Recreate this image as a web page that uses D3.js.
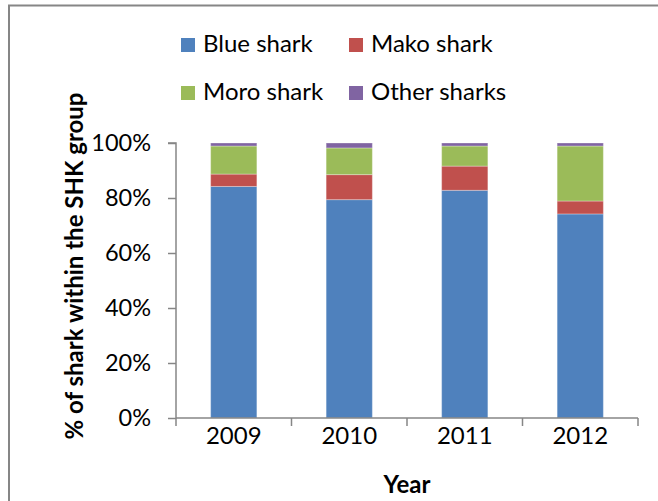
<!DOCTYPE html>
<html>
<head>
<meta charset="utf-8">
<script src="https://cdn.jsdelivr.net/npm/d3@7"></script>
<style>
  html, body { margin: 0; padding: 0; background: #fff; }
  svg { display: block; }
  text { font-family: Lato, "Open Sans", sans-serif; fill: #000; }
</style>
</head>
<body>
<svg id="chart" width="658" height="501"></svg>
<script>
const years = ["2009", "2010", "2011", "2012"];
const seriesNames = ["Blue shark", "Mako shark", "Moro shark", "Other sharks"];
const blueShark = [84.2, 79.4, 82.8, 74.2];
const makoShark = [4.5, 9.1, 8.8, 4.7];
const moroShark = [10.2, 9.7, 7.3, 20.0];
const otherSharks = [1.1, 1.8, 1.1, 1.1];
const yTicks = [0, 20, 40, 60, 80, 100];
const colors = ["#4F81BD", "#C0504D", "#9BBB59", "#8064A2"];

const seriesValues = [blueShark, makoShark, moroShark, otherSharks];
const rows = years.map((yr, i) => {
  const r = { year: yr };
  seriesNames.forEach((s, k) => { r[s] = seriesValues[k][i]; });
  return r;
});

const svg = d3.select("#chart");
const pLeft = 176, pRight = 638, pTop = 143, pBottom = 418;

// outer frame
svg.append("path")
  .attr("d", "M9,510 L9,5.5 L670,5.5")
  .attr("fill", "none")
  .attr("stroke", "#868686")
  .attr("stroke-width", 2);

const x = d3.scaleBand().domain(years).range([pLeft, pRight]).paddingInner(0.6).paddingOuter(0.3);
const y = d3.scaleLinear().domain([0, 100]).range([pBottom, pTop]);

const stack = d3.stack().keys(seriesNames)(rows);

svg.append("g").selectAll("g").data(stack).join("g")
  .attr("fill", (d, i) => colors[i])
  .selectAll("rect").data(d => d).join("rect")
  .attr("x", d => x(d.data.year))
  .attr("width", x.bandwidth())
  .attr("y", d => y(d[1]))
  .attr("height", d => y(d[0]) - y(d[1]))
  .attr("stroke", "rgba(255,255,255,0.3)")
  .attr("stroke-width", 1);

// y axis
const yAxis = svg.append("g").attr("transform", `translate(${pLeft},0)`)
  .call(d3.axisLeft(y).tickValues(yTicks).tickFormat(d => d + "%").tickSize(8).tickPadding(17));
yAxis.select(".domain").attr("stroke", "#868686").attr("stroke-width", 1.5).attr("d", `M-8,${pTop}H0V${pBottom}`);
yAxis.selectAll(".tick line").attr("stroke", "#868686").attr("stroke-width", 1.5);
yAxis.selectAll(".tick text").attr("font-size", 23.5).attr("font-family", "Lato").attr("fill", "#000");

// x axis with ticks at category boundaries
const xAxisG = svg.append("g").attr("transform", `translate(0,${pBottom})`);
xAxisG.append("line").attr("x1", pLeft).attr("x2", pRight).attr("y1", 0).attr("y2", 0)
  .attr("stroke", "#868686").attr("stroke-width", 1.5);
const boundaries = years.map((d, i) => pLeft + i * x.step());
boundaries.push(pRight);
xAxisG.selectAll("line.tk").data(boundaries).join("line").attr("class", "tk")
  .attr("x1", d => d).attr("x2", d => d).attr("y1", 0).attr("y2", 8)
  .attr("stroke", "#868686").attr("stroke-width", 1.5);
xAxisG.selectAll("text").data(years).join("text")
  .attr("x", d => x(d) + x.bandwidth() / 2)
  .attr("y", 26)
  .attr("text-anchor", "middle")
  .attr("font-size", 24)
  .text(d => d);

// axis titles
svg.append("text").attr("x", 407).attr("y", 493).attr("text-anchor", "middle")
  .attr("font-size", 24).attr("font-weight", "bold").text("Year");
svg.append("text").attr("transform", "translate(83,266) rotate(-90)").attr("text-anchor", "middle")
  .attr("font-size", 24).attr("font-weight", "bold").text("% of shark within the SHK group");

// legend
const legendPos = [[181, 38], [349, 38], [181, 86], [349, 86]];
const lg = svg.append("g").selectAll("g").data(seriesNames).join("g")
  .attr("transform", (d, i) => `translate(${legendPos[i][0]},${legendPos[i][1]})`);
lg.append("rect").attr("width", 14).attr("height", 14).attr("fill", (d, i) => colors[i]);
lg.append("text").attr("x", 22).attr("y", 14).attr("font-size", 24).text(d => d);
</script>
</body>
</html>
